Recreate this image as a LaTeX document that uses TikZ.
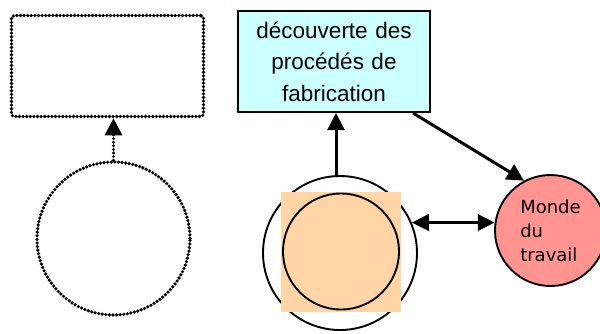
\documentclass[tikz,border=0pt]{standalone}
\usepackage{fontspec}
\setmainfont{Liberation Sans}
\newfontfamily\mondefont{DejaVu Sans}
\usetikzlibrary{arrows.meta}
\definecolor{boxcyan}{HTML}{CCFFFF}
\definecolor{peach}{HTML}{FFD5A6}
\definecolor{pinkc}{HTML}{FF9490}
\tikzset{
  dotted3/.style={line width=3.6pt, line cap=round, dash pattern=on 0pt off 3.6pt},
  dotbox/.style={draw, dotted3, rounded corners=3pt, inner sep=0pt},
  dotcirc/.style={draw, dotted3, circle, inner sep=0pt},
  arr/.style={line width=3pt, -{Triangle[length=17pt,width=17pt]}},
  darr/.style={line width=3.8pt, {Triangle[length=17pt,width=16pt]}-{Triangle[length=17pt,width=16pt]}},
  thincirc/.style={draw, line width=1.9pt, circle, inner sep=0pt},
}
\begin{document}
\begin{tikzpicture}[x=1pt,y=-1pt]
\useasboundingbox (0,0) rectangle (600,333);
\clip (0,0) rectangle (600,333);
% left part
\node[dotbox, minimum width=192pt, minimum height=101pt] (r1) at (107.5,66) {};
\node[dotcirc, minimum size=153pt] (c1) at (113.5,238.5) {};
\draw[dotted3, arr, line width=3.2pt] (c1.north) -- (c1.north |- r1.south);
% top box
\node[draw, line width=1.6pt, fill=boxcyan, minimum width=192.5pt, minimum height=101.5pt,
      text width=190pt, align=center, inner sep=0pt,
      font=\fontsize{22.5}{31.5}\selectfont] (box) at (334,61.5)
  {découverte des\\procédés de\\fabrication};
% outer and inner circles
\node[thincirc, minimum size=154pt] (outer) at (340,253) {};
\fill[peach] (281,192) rectangle (401,312);
\node[thincirc, minimum size=116pt] (inner) at (341,251.5) {};
% pink circle
\node[draw, line width=1.9pt, fill=pinkc, circle, minimum size=111pt, inner sep=0pt,
      align=left, font=\mondefont\fontsize{18}{24}\selectfont] (pink) at (550.5,230.5)
  {Monde\\du\\travail};
% connectors
\coordinate (upa) at (336,176);
\draw[arr] (upa) -- (upa |- box.south);
\draw[arr] ([xshift=-18pt]box.south east) -- (pink.118);
\draw[darr] (outer.23) -- (pink.171 |- outer.23);
\end{tikzpicture}
\end{document}
